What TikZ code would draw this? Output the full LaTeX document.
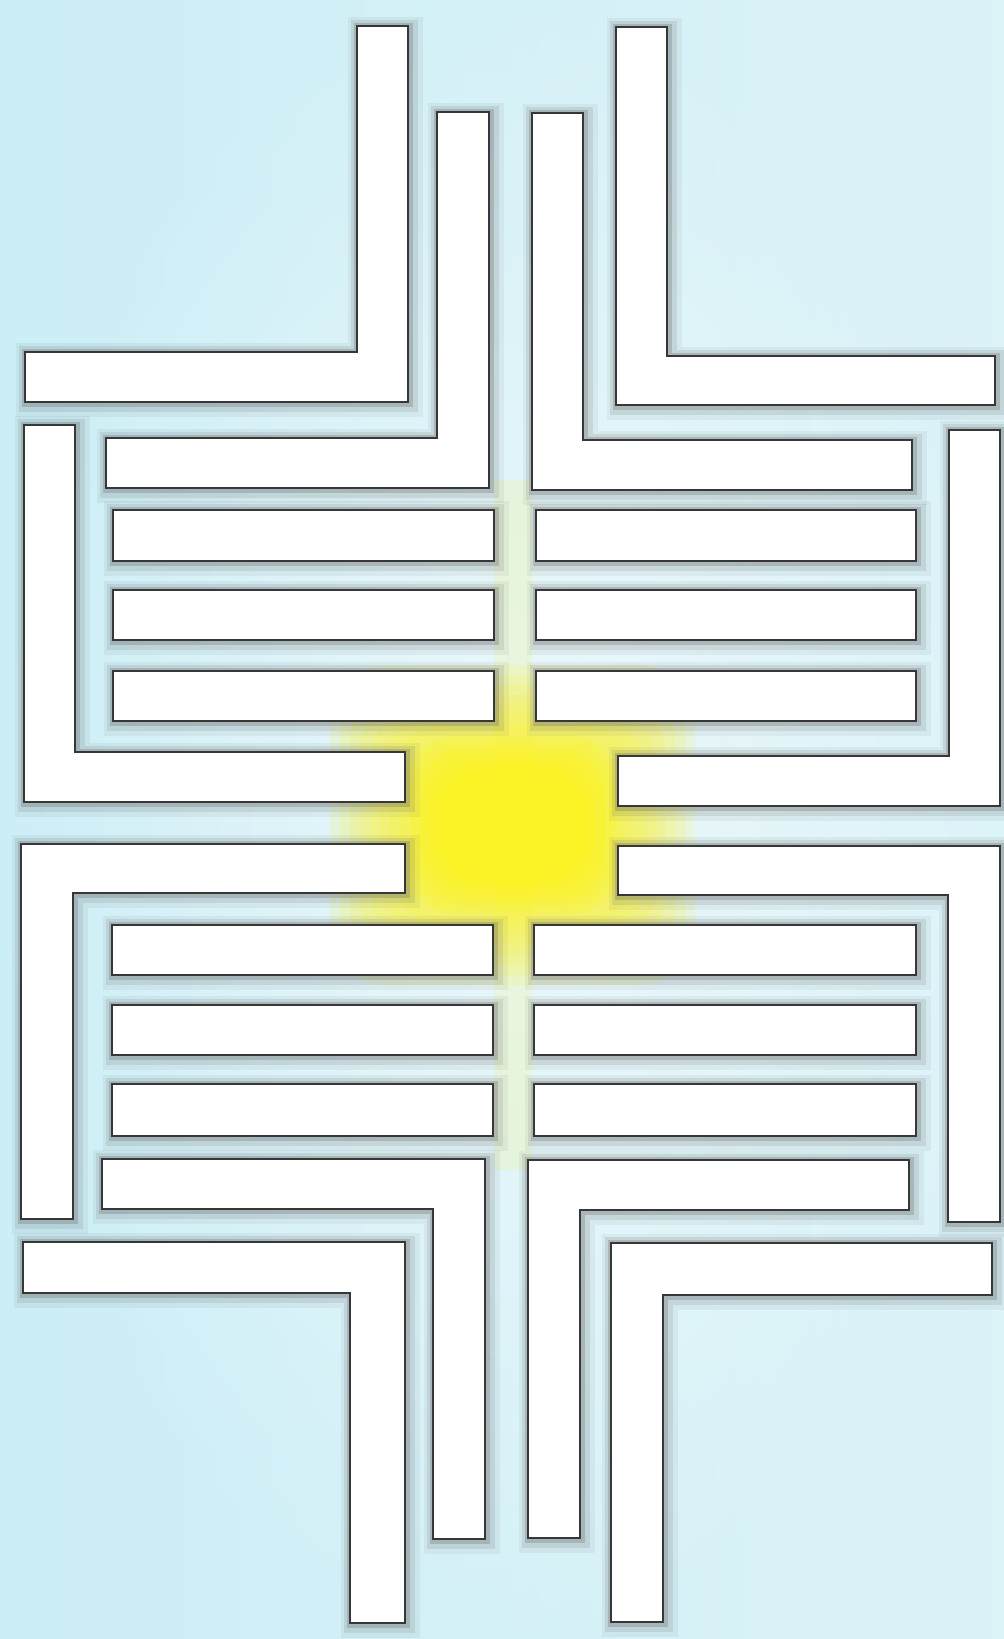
\documentclass[tikz,border=0pt]{standalone}
\usepackage{tikz}

\definecolor{bgout}{RGB}{204,238,246}
\definecolor{bgin}{RGB}{244,251,252}
\definecolor{glowc}{RGB}{255,242,20}
\definecolor{rim}{RGB}{55,55,55}
\definecolor{soot}{RGB}{90,90,90}

% one slab: soft shadow, then white face
\newcommand\slab[1]{%
  \draw[halo far] #1;
  \draw[halo wide] #1;
  \draw[halo] #1;
  \filldraw[plate] #1;}

\begin{document}
\begin{tikzpicture}[x=0.01cm, y=-0.01cm,
  plate/.style={fill=white, draw=rim, line width=0.7pt, line join=miter},
  halo far/.style={draw=soot, opacity=0.07, line width=7pt, shift={(3,3)}},
  halo wide/.style={draw=soot, opacity=0.13, line width=4.5pt, shift={(2,2)}},
  halo/.style={draw=soot, opacity=0.25, line width=2.2pt, shift={(1,1)}}
]
\useasboundingbox (0,0) rectangle (1004,1639);
\shade[inner color=bgin, outer color=bgout] (0,0) rectangle (1004,1639);
\shade[left color=bgout, right color=bgin, opacity=0.4] (0,0) rectangle (1004,1639);

% yellow glow in the middle
\fill[glowc, opacity=0.12] (494,480) rectangle (532,1170);
\foreach \d in {100,90,...,0}
  \fill[glowc, opacity=0.13, rounded corners=16pt] ({430-\d},{765-\d}) rectangle ({595+\d},{885+\d});
\foreach \d in {30,20,10,0}
  \fill[glowc, opacity=0.2, rounded corners=12pt] ({440-\d},{770-\d}) rectangle ({585+\d},{880+\d});

% upper half
\slab{(357,26) -- (408,26) -- (408,402) -- (25,402) -- (25,352) -- (357,352) -- cycle}
\slab{(437,112) -- (489,112) -- (489,488) -- (106,488) -- (106,438) -- (437,438) -- cycle}
\slab{(532,113) -- (583,113) -- (583,440) -- (912,440) -- (912,490) -- (532,490) -- cycle}
\slab{(616,27) -- (667,27) -- (667,356) -- (995,356) -- (995,405) -- (616,405) -- cycle}
\slab{(24,425) -- (75,425) -- (75,752) -- (405,752) -- (405,802) -- (24,802) -- cycle}
\slab{(949,430) -- (1000,430) -- (1000,806) -- (618,806) -- (618,756) -- (949,756) -- cycle}
\foreach \ya/\yb in {510/561, 590/640, 671/721} {
  \slab{(113,\ya) rectangle (494,\yb)}
  \slab{(536,\ya) rectangle (916,\yb)}
}

% lower half
\slab{(21,844) -- (405,844) -- (405,893) -- (73,893) -- (73,1219) -- (21,1219) -- cycle}
\slab{(1000,846) -- (1000,1222) -- (948,1222) -- (948,895) -- (618,895) -- (618,846) -- cycle}
\foreach \ya/\yb in {925/975, 1005/1055, 1084/1136} {
  \slab{(112,\ya) rectangle (493,\yb)}
  \slab{(534,\ya) rectangle (916,\yb)}
}
\slab{(102,1159) -- (485,1159) -- (485,1539) -- (433,1539) -- (433,1209) -- (102,1209) -- cycle}
\slab{(528,1160) -- (909,1160) -- (909,1210) -- (580,1210) -- (580,1538) -- (528,1538) -- cycle}
\slab{(23,1242) -- (405,1242) -- (405,1623) -- (350,1623) -- (350,1293) -- (23,1293) -- cycle}
\slab{(611,1243) -- (992,1243) -- (992,1295) -- (663,1295) -- (663,1622) -- (611,1622) -- cycle}
\end{tikzpicture}
\end{document}
